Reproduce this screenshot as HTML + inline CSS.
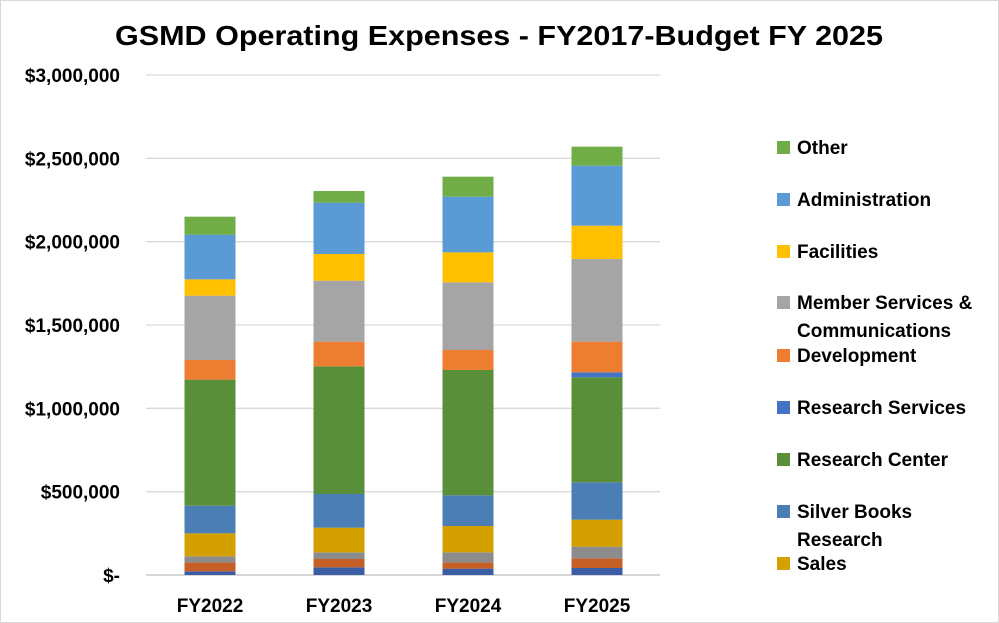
<!DOCTYPE html>
<html><head><meta charset="utf-8"><style>
html,body{margin:0;padding:0;background:#fff;}
svg{display:block;font-family:"Liberation Sans",sans-serif;font-weight:bold;}
</style></head><body>
<svg id="chart" width="999" height="623" viewBox="0 0 999 623">
<rect x="0.5" y="0.5" width="998" height="622" fill="#fff" stroke="#d9d9d9"/>
<text x="499" y="45" text-anchor="middle" font-size="28" textLength="768" lengthAdjust="spacingAndGlyphs" fill="#000">GSMD Operating Expenses - FY2017-Budget FY 2025</text>
<g id="grid"></g><g id="bars"></g><g id="legend"></g>
</svg>
<script>
const categories=["FY2022","FY2023","FY2024","FY2025"];
const seriesNames=["Series 1","Series 2","Series 3","Sales","Silver Books Research","Research Center","Research Services","Development","Member Services & Communications","Facilities","Administration","Other"];
const seriesColors=["#3a5da6","#c55f26","#8c8c8c","#d4a000","#4a7eb5","#5a8f3a","#4472c4","#ed7d31","#a5a5a5","#ffc000","#5b9bd5","#70ad47"];
const s1=[22000,46000,38000,42000];
const s2=[54000,50000,38000,58000];
const s3=[36000,40000,60000,70000];
const sales=[138000,148000,158000,162000];
const silverBooks=[166000,202000,184000,224000];
const researchCenter=[756000,766000,752000,630000];
const researchServices=[0,0,0,30000];
const development=[118000,148000,120000,184000];
const memberServices=[386000,366000,406000,496000];
const facilities=[98000,160000,180000,200000];
const administration=[268000,308000,334000,360000];
const other=[108000,70000,120000,114000];
const seriesValues=[s1,s2,s3,sales,silverBooks,researchCenter,researchServices,development,memberServices,facilities,administration,other];
const yTicks=[0,500000,1000000,1500000,2000000,2500000,3000000];
const yTickLabels=["$-","$500,000","$1,000,000","$1,500,000","$2,000,000","$2,500,000","$3,000,000"];
const legendItems=[
 {i:11,lines:["Other"]},{i:10,lines:["Administration"]},{i:9,lines:["Facilities"]},
 {i:8,lines:["Member Services &","Communications"]},{i:7,lines:["Development"]},
 {i:6,lines:["Research Services"]},{i:5,lines:["Research Center"]},
 {i:4,lines:["Silver Books","Research"]},{i:3,lines:["Sales"]}];

const NS="http://www.w3.org/2000/svg";
const plotL=146,plotR=660,y0=575,yTop=75,yMax=3000000;
function yScale(v){return y0-(v/yMax)*(y0-yTop);}
const band=(plotR-plotL)/categories.length;
function xCenter(i){return 210+i*129;}
const barW=51;
function mk(tag,attrs,parent){const e=document.createElementNS(NS,tag);for(const k in attrs)e.setAttribute(k,attrs[k]);parent.appendChild(e);return e;}
const grid=document.getElementById('grid');
yTicks.forEach((t,k)=>{
 const y=yScale(t);
 const l=mk('line',{x1:plotL,x2:plotR,y1:y,y2:y,stroke:t===0?'#bfbfbf':'#d9d9d9','stroke-width':1.3},grid);
 
 
 const tx=mk('text',{x:120,y:y+7,'text-anchor':'end','font-size':19},grid);
 tx.textContent=yTickLabels[k];
 
 
});
const bars=document.getElementById('bars');
categories.forEach((c,ci)=>{
 let cum=0;
 seriesValues.forEach((arr,si)=>{
  const v=arr[ci];if(v<=0){return;}
  const yb=yScale(cum),yt=yScale(cum+v);cum+=v;
  const r=mk('rect',{x:xCenter(ci)-barW/2,y:yt,width:barW,height:yb-yt,fill:seriesColors[si]},bars);
  
  
 });
 const t=mk('text',{x:xCenter(ci),y:612,'text-anchor':'middle','font-size':19},bars);
 t.textContent=c;
 
 
});
const lg=document.getElementById('legend');
const legY=[147,199,251,302,355,407,459,511,563];
legendItems.forEach((it,k)=>{
 const y=legY[k];
 const g=mk('g',{},lg);
 
 
 mk('rect',{x:777,y:y-6,width:13,height:13,fill:seriesColors[it.i]},g);
 it.lines.forEach((ln,j)=>{
  const t=mk('text',{x:797,y:y+7+j*28,'font-size':19},g);
  t.textContent=ln;
 });
});
</script>
</body></html>
